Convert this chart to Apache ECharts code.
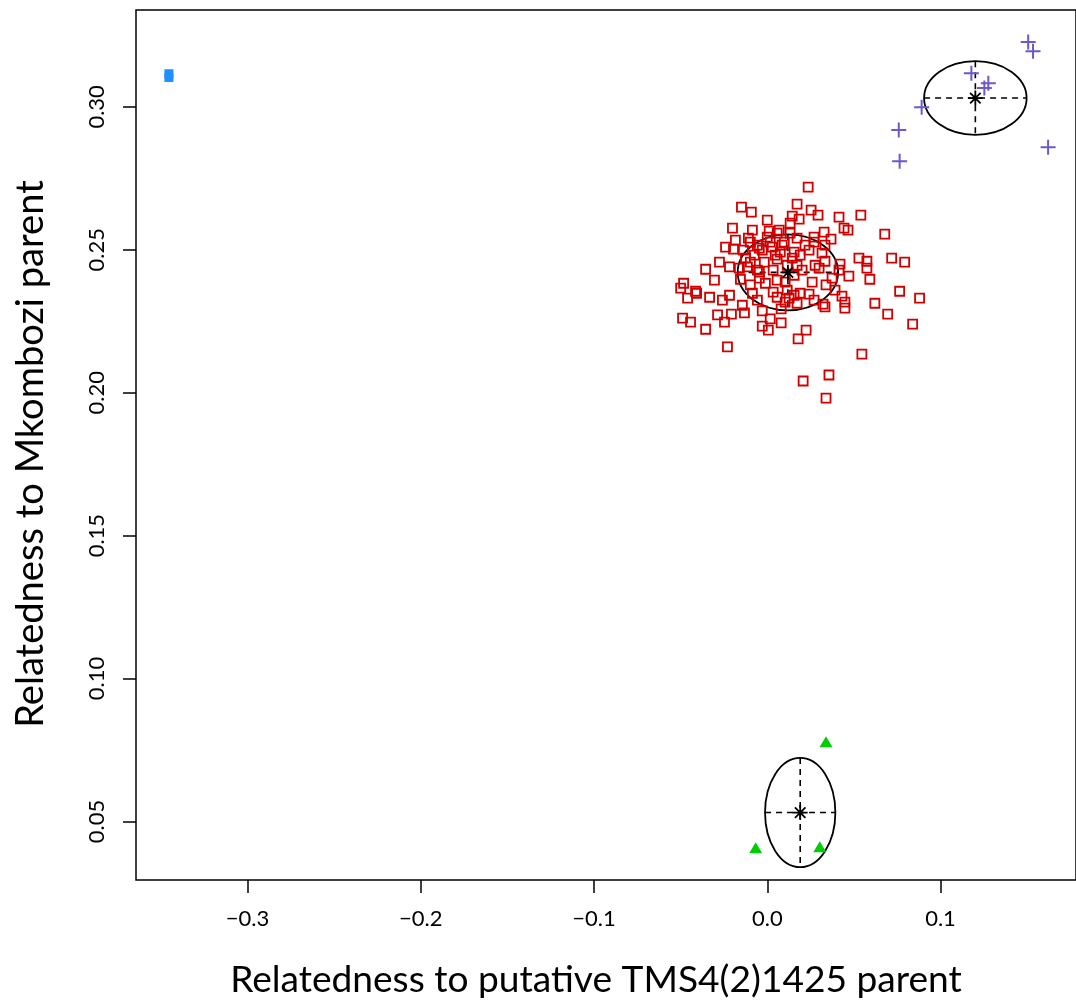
<!DOCTYPE html>
<html>
<head>
<meta charset="utf-8">
<script src="https://cdn.jsdelivr.net/npm/echarts@6/dist/echarts.min.js"></script>
<style>
html, body { margin: 0; padding: 0; background: #fff; }
#chart { width: 1076px; height: 1002px; }
</style>
</head>
<body>
<div id="chart"></div>
<script>
// offspring relatedness, main cluster (red squares)
const redX = [0.0236, 0.0172, -0.0149, -0.0092, 0.0253, 0.0293, 0.0, 0.0144, 0.0184, 0.0414,
	0.0540, 0.0443, 0.0466, -0.0201, 0.0678, 0.0132, 0.0270, 0.0328, 0.0368, -0.0241,
	-0.0195, -0.0109, -0.0098, -0.0057, 0.0, 0.0017, 0.0057, 0.0098, 0.0132, 0.0172,
	-0.0029, 0.0046, 0.0190, 0.0316, 0.0333, -0.0276, -0.0218, -0.0356, -0.0126, -0.0115,
	-0.0057, 0.0057, 0.0144, 0.0276, 0.0299, 0.0420, 0.0529, 0.0575, 0.0575, 0.0471,
	0.0592, 0.0718, 0.0793, 0.0764, 0.0879, -0.0483, -0.0500, -0.0414, -0.0333, -0.0218,
	-0.0155, -0.0046, 0.0057, 0.0155, 0.0190, 0.0259, 0.0339, 0.0431, 0.0448, 0.0126,
	-0.0098, -0.0460, -0.0408, -0.0489, -0.0443, -0.0356, -0.0287, -0.0247, -0.0207, -0.0230,
	-0.0132, -0.0029, 0.0017, -0.0029, 0.0006, 0.0080, 0.0080, 0.0103, 0.0155, 0.0241,
	0.0172, 0.0224, 0.0178, 0.0322, 0.0333, 0.0448, 0.0621, 0.0695, 0.0839, 0.0546,
	0.0356, 0.0207, 0.0339, -0.0046, 0.0029, 0.0086, -0.0098, -0.0046, 0.0103, 0.0155,
	0.0333, 0.0011, 0.0069, -0.0161, -0.0075, -0.0017, 0.0115, 0.0201, 0.0241, 0.0270,
	-0.0138, -0.0184, -0.0086, 0.0115, 0.0034, 0.0391, -0.0057, -0.0144, 0.0270, 0.0075,
	0.0218, -0.0011, -0.0086, -0.0259, 0.0414, 0.0374, -0.0305, 0.0034, 0.0172, 0.0057]
const redY = [0.2719, 0.2660, 0.2649, 0.2632, 0.2639, 0.2621, 0.2604, 0.2618, 0.2607, 0.2614,
	0.2621, 0.2576, 0.2569, 0.2576, 0.2555, 0.2593, 0.2544, 0.2562, 0.2537, 0.2509,
	0.2502, 0.2541, 0.2527, 0.2516, 0.2544, 0.2527, 0.2558, 0.2527, 0.2558, 0.2541,
	0.2499, 0.2481, 0.2481, 0.2488, 0.2516, 0.2457, 0.2440, 0.2432, 0.2471, 0.2440,
	0.2429, 0.2467, 0.2471, 0.2446, 0.2436, 0.2450, 0.2471, 0.2460, 0.2436, 0.2408,
	0.2397, 0.2471, 0.2457, 0.2355, 0.2331, 0.2383, 0.2366, 0.2355, 0.2334, 0.2341,
	0.2397, 0.2401, 0.2394, 0.2411, 0.2348, 0.2387, 0.2377, 0.2338, 0.2317, 0.2331,
	0.2377, 0.2331, 0.2348, 0.2261, 0.2247, 0.2222, 0.2272, 0.2247, 0.2275, 0.2160,
	0.2279, 0.2286, 0.2258, 0.2233, 0.2219, 0.2244, 0.2293, 0.2317, 0.2341, 0.2345,
	0.2313, 0.2219, 0.2188, 0.2310, 0.2300, 0.2296, 0.2313, 0.2275, 0.2240, 0.2135,
	0.2062, 0.2041, 0.1981, 0.2506, 0.2509, 0.2516, 0.2457, 0.2422, 0.2387, 0.2492,
	0.2460, 0.2565, 0.2569, 0.2436, 0.2481, 0.2457, 0.2446, 0.2429, 0.2499, 0.2527,
	0.2499, 0.2534, 0.2569, 0.2359, 0.2352, 0.2359, 0.2324, 0.2306, 0.2324, 0.2492,
	0.2516, 0.2383, 0.2348, 0.2324, 0.2429, 0.2401, 0.2394, 0.2429, 0.2446, 0.2334]
// purple crosses
const purpleX = [0.1506, 0.1534, 0.1178, 0.1276, 0.1253, 0.0891, 0.0759, 0.0764, 0.1621]
const purpleY = [0.3227, 0.3195, 0.3118, 0.3083, 0.3066, 0.2999, 0.2919, 0.2810, 0.2859]
// green triangles
const greenX = [0.0339, -0.0067, 0.0303]
const greenY = [0.0779, 0.0408, 0.0411]
// blue squares
const blueX = [-0.3454, -0.3454]
const blueY = [0.3116, 0.3103]
// group means (star) and spread (ellipse half axes): red, purple, green
const centerX = [0.0119, 0.1201, 0.0190]
const centerY = [0.2421, 0.3031, 0.0531]
const spreadX = [0.0290, 0.0296, 0.0203]
const spreadY = [0.0133, 0.0129, 0.0191]
// axes
const xTicks = [-0.3, -0.2, -0.1, 0.0, 0.1]
const yTicks = [0.05, 0.10, 0.15, 0.20, 0.25, 0.30]
const xTitle = 'Relatedness to putative TMS4(2)1425 parent'
const yTitle = 'Relatedness to Mkombozi parent'

const FONT = 'Lato, "Open Sans", sans-serif'
const pairs = (xs, ys) => xs.map((x, i) => [x, ys[i]])

// font size so the title spans the same width as in the picture
const measure = document.createElement('canvas').getContext('2d')
const fitSize = (text, width) => {
	measure.font = '100px ' + FONT
	return 100 * width / measure.measureText(text).width
}

const tickStyle = { length: 13, lineStyle: { color: '#000', width: 1.5 } }
const labelStyle = { color: '#000', fontSize: 22, fontFamily: FONT }
const fmt = (d) => (v) => v.toFixed(d).replace('-', '\u2212')

const myChart = echarts.init(document.getElementById('chart'), null, { renderer: 'canvas' })
const option = {
	animation: false,
	grid: {
		left: 136,
		top: 10,
		width: 944,
		height: 870,
		show: true,
		borderColor: '#000',
		borderWidth: 1.5
	},
	xAxis: {
		type: 'value',
		min: -0.3644,
		max: 0.1782,
		splitLine: { show: false },
		axisLine: { show: false, onZero: false },
		axisTick: Object.assign({ customValues: xTicks }, tickStyle),
		axisLabel: Object.assign({ customValues: xTicks, margin: 28, formatter: fmt(1) }, labelStyle)
	},
	yAxis: {
		type: 'value',
		min: 0.0295,
		max: 0.3339,
		splitLine: { show: false },
		axisLine: { show: false, onZero: false },
		axisTick: Object.assign({ customValues: yTicks }, tickStyle),
		axisLabel: Object.assign({ customValues: yTicks, margin: 28, rotate: 90, formatter: fmt(2) }, labelStyle)
	},
	graphic: [
		{
			type: 'text', x: 596, y: 980,
			style: { text: xTitle, fill: '#000', fontFamily: FONT, fontSize: fitSize(xTitle, 732), align: 'center', verticalAlign: 'middle' }
		},
		{
			type: 'text', x: 31, y: 454, rotation: Math.PI / 2,
			style: { text: yTitle, fill: '#000', fontFamily: FONT, fontSize: fitSize(yTitle, 548), align: 'center', verticalAlign: 'middle' }
		}
	],
	series: [
		{
			type: 'scatter',
			data: pairs(redX, redY),
			symbol: 'rect',
			symbolSize: 9,
			itemStyle: { color: 'rgba(0,0,0,0)', borderColor: '#D00000', borderWidth: 1.8, opacity: 1 }
		},
		{
			type: 'scatter',
			data: pairs(purpleX, purpleY),
			symbol: 'path://M0,7L14,7M7,0L7,14',
			symbolSize: 15,
			itemStyle: { color: 'rgba(0,0,0,0)', borderColor: '#6A5ACD', borderWidth: 2, opacity: 1 }
		},
		{
			type: 'scatter',
			data: pairs(greenX, greenY),
			symbol: 'triangle',
			symbolSize: [13, 11],
			itemStyle: { color: '#00CD00', opacity: 1 }
		},
		{
			type: 'scatter',
			data: pairs(blueX, blueY),
			symbol: 'rect',
			symbolSize: 9,
			itemStyle: { color: '#1E90FF', opacity: 1 }
		},
		{
			// ellipse with dashed half axes round each group mean
			type: 'custom',
			data: centerX.map((x, i) => [x, centerY[i], spreadX[i], spreadY[i]]),
			renderItem: function(params, api) {
				const c = api.coord([api.value(0), api.value(1)])
				const s = api.size([api.value(2), api.value(3)])
				const dash = { stroke: '#000', lineWidth: 1.6, lineDash: [6, 5] }
				return {
					type: 'group',
					children: [
						{ type: 'ellipse', shape: { cx: c[0], cy: c[1], rx: s[0], ry: s[1] }, style: { fill: 'none', stroke: '#000', lineWidth: 1.8 } },
						{ type: 'line', shape: { x1: c[0] - s[0], y1: c[1], x2: c[0] + s[0], y2: c[1] }, style: dash },
						{ type: 'line', shape: { x1: c[0], y1: c[1] - s[1], x2: c[0], y2: c[1] + s[1] }, style: dash }
					]
				}
			}
		},
		{
			type: 'scatter',
			data: pairs(centerX, centerY),
			symbol: 'path://M0,6L12,6M6,0L6,12M1.8,1.8L10.2,10.2M1.8,10.2L10.2,1.8',
			symbolSize: 15,
			itemStyle: { color: 'rgba(0,0,0,0)', borderColor: '#000', borderWidth: 1.8, opacity: 1 }
		}
	]
}
myChart.setOption(option)
</script>
</body>
</html>
